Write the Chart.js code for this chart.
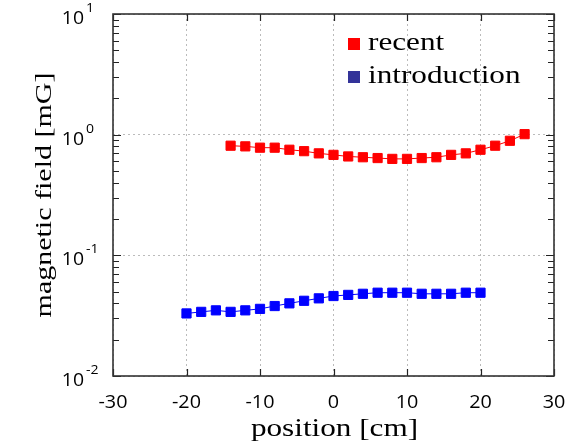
<!DOCTYPE html>
<html>
<head>
<meta charset="utf-8">
<script src="https://cdn.jsdelivr.net/npm/chart.js@4/dist/chart.umd.min.js"></script>
<style>
  html, body { margin: 0; padding: 0; background: #fff; }
  #wrap { width: 574px; height: 446px; }
</style>
</head>
<body>
<div id="wrap"><canvas id="chart" width="574" height="446"></canvas></div>
<script>
// data
const recentPos = [-14, -12, -10, -8, -6, -4, -2, 0, 2, 4, 6, 8, 10, 12, 14, 16, 18, 20, 22, 24, 26];
const recentField = [0.81, 0.80, 0.78, 0.78, 0.75, 0.73, 0.70, 0.68, 0.66, 0.65, 0.64, 0.63, 0.63, 0.64, 0.65, 0.68, 0.70, 0.75, 0.81, 0.89, 1.01];
const introPos = [-20, -18, -16, -14, -12, -10, -8, -6, -4, -2, 0, 2, 4, 6, 8, 10, 12, 14, 16, 18, 20];
const introField = [0.033, 0.034, 0.035, 0.034, 0.035, 0.036, 0.038, 0.040, 0.042, 0.044, 0.046, 0.047, 0.048, 0.049, 0.049, 0.049, 0.048, 0.048, 0.048, 0.049, 0.049];

const xTicks = [-30, -20, -10, 0, 10, 20, 30];
const yDecades = [0.01, 0.1, 1, 10];
const yExponents = ['-2', '-1', '0', '1'];
const seriesNames = ['recent', 'introduction'];
const legendColors = ['#ff0000', '#333399'];
const xTitle = 'position [cm]';
const yTitle = 'magnetic field [mG]';

function toPoints(xs, ys) {
    return xs.map((x, i) => ({ x: x, y: ys[i] }));
}

// text drawn a bit wider than the font, like the original
function wideText(ctx, text, x, y, font, align, sx, rot) {
    ctx.save();
    ctx.translate(x, y);
    if (rot) ctx.rotate(rot);
    ctx.scale(sx, 1);
    ctx.font = font;
    ctx.textAlign = align;
    ctx.textBaseline = 'alphabetic';
    ctx.fillStyle = '#000';
    ctx.fillText(text, 0, 0);
    ctx.restore();
}

const decorations = {
    id: 'decorations',
    afterDraw(chart) {
        const ctx = chart.ctx;
        const area = chart.chartArea;
        const xs = chart.scales.x;
        const ys = chart.scales.y;

        // inward tick marks
        ctx.save();
        ctx.strokeStyle = '#222';
        ctx.lineWidth = 1.2;
        ctx.beginPath();
        xTicks.forEach(v => {
            const px = Math.round(xs.getPixelForValue(v)) + 0.5;
            ctx.moveTo(px, area.top); ctx.lineTo(px, area.top + 7);
            ctx.moveTo(px, area.bottom); ctx.lineTo(px, area.bottom - 7);
        });
        yDecades.forEach((d, i) => {
            for (let m = 1; m <= 9; m++) {
                if (d === 10 && m > 1) break;
                const py = Math.round(ys.getPixelForValue(d * m)) + 0.5;
                const len = m === 1 ? 8 : 6;
                ctx.moveTo(area.left, py); ctx.lineTo(area.left + len, py);
                ctx.moveTo(area.right, py); ctx.lineTo(area.right - len, py);
            }
        });
        ctx.stroke();

        // frame
        ctx.strokeStyle = '#333';
        ctx.lineWidth = 1.6;
        ctx.strokeRect(area.left, area.top, area.right - area.left, area.bottom - area.top);
        ctx.restore();

        // x tick labels
        xTicks.forEach(v => {
            wideText(ctx, String(v), xs.getPixelForValue(v), 408, '18px "Open Sans"', 'center', 1.1);
        });

        // y tick labels 10^n
        yDecades.forEach((d, i) => {
            const py = ys.getPixelForValue(d);
            wideText(ctx, '10', 84, py + 10, '18px "Open Sans"', 'right', 1.08);
            wideText(ctx, yExponents[i], 86, py - 2, '13px "Open Sans"', 'left', 1.08);
        });

        // axis titles
        wideText(ctx, xTitle, (area.left + area.right) / 2 + 1, 436, '26px "Liberation Serif"', 'center', 1.2);
        wideText(ctx, yTitle, 51, (area.top + area.bottom) / 2, '24px "Liberation Serif"', 'center', 1.25, -Math.PI / 2);

        // legend inside the plot
        seriesNames.forEach((name, i) => {
            const base = 50 + i * 33;
            ctx.fillStyle = legendColors[i];
            ctx.fillRect(348, base - 12, 12, 12);
            wideText(ctx, name, 368, base, '26px "Liberation Serif"', 'left', 1.2);
        });
    }
};

new Chart(document.getElementById('chart'), {
    type: 'scatter',
    data: {
        datasets: [
            {
                label: seriesNames[0],
                data: toPoints(recentPos, recentField),
                showLine: true,
                borderColor: '#ff0000',
                backgroundColor: '#ff0000',
                borderWidth: 1,
                pointStyle: 'rect',
                pointRadius: 6.5,
                pointBorderWidth: 1
            },
            {
                label: seriesNames[1],
                data: toPoints(introPos, introField),
                showLine: true,
                borderColor: '#0000ff',
                backgroundColor: '#0000ff',
                borderWidth: 1,
                pointStyle: 'rect',
                pointRadius: 6.5,
                pointBorderWidth: 1
            }
        ]
    },
    options: {
        responsive: false,
        animation: false,
        layout: { padding: { top: 14, right: 20, left: 0, bottom: 0 } },
        plugins: {
            legend: { display: false },
            tooltip: { enabled: false }
        },
        scales: {
            x: {
                type: 'linear',
                min: -30,
                max: 30,
                afterBuildTicks: s => { s.ticks = xTicks.map(v => ({ value: v })); },
                afterFit: s => { s.height = 70; },
                ticks: { display: false },
                grid: { color: '#bbbbbb', lineWidth: 1, drawTicks: false },
                border: { display: false, dash: [2, 3] }
            },
            y: {
                type: 'logarithmic',
                min: 0.01,
                max: 10,
                afterBuildTicks: s => { s.ticks = yDecades.map(v => ({ value: v })); },
                afterFit: s => { s.width = 113; },
                ticks: { display: false },
                grid: { color: '#bbbbbb', lineWidth: 1, drawTicks: false },
                border: { display: false, dash: [2, 3] }
            }
        }
    },
    plugins: [decorations]
});
</script>
</body>
</html>
